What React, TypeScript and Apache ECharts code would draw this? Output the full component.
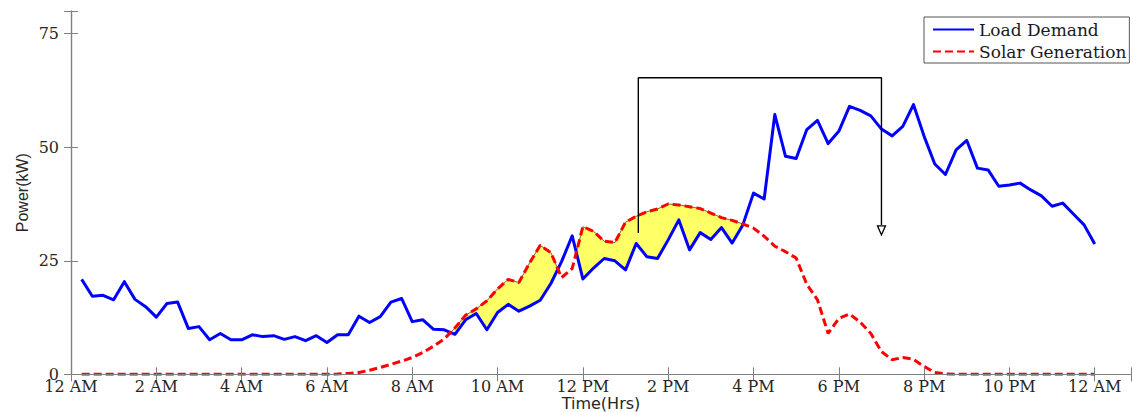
import React, { useEffect, useRef } from "react";
import * as echarts from "echarts";

// x positions are 15-minute steps after midnight (1 .. 96)
const tickLabels = [
  "12 AM", "2 AM", "4 AM", "6 AM", "8 AM", "10 AM", "12 PM",
  "2 PM", "4 PM", "6 PM", "8 PM", "10 PM", "12 AM",
];

const loadDemand = [
  20.9, 17.2, 17.4, 16.4, 20.4, 16.5, 14.9, 12.6, 15.6, 15.9,
  10.1, 10.5, 7.6, 9.0, 7.6, 7.6, 8.7, 8.3, 8.5, 7.7,
  8.3, 7.4, 8.5, 7.0, 8.7, 8.7, 12.8, 11.4, 12.7, 15.9,
  16.7, 11.6, 12.0, 9.9, 9.8, 8.8, 12.0, 13.4, 9.8, 13.6,
  15.4, 13.9, 15.0, 16.3, 20.0, 24.8, 30.5, 21.0, 23.4, 25.5,
  25.0, 23.0, 28.8, 25.9, 25.5, 29.6, 34.0, 27.4, 31.2, 29.7,
  32.3, 28.9, 32.9, 39.9, 38.6, 57.2, 48.0, 47.5, 53.9, 55.9,
  50.8, 53.5, 59.0, 58.1, 56.9, 54.0, 52.5, 54.6, 59.4, 52.4,
  46.3, 44.0, 49.4, 51.5, 45.4, 45.0, 41.4, 41.7, 42.1, 40.6,
  39.3, 37.0, 37.7, 35.3, 32.9, 28.7,
];

const solarGeneration = [
  0, 0, 0, 0, 0, 0, 0, 0, 0, 0,
  0, 0, 0, 0, 0, 0, 0, 0, 0, 0,
  0, 0, 0, 0, 0.05, 0.2, 0.4, 0.9, 1.5, 2.2,
  2.9, 3.7, 4.8, 6.2, 7.8, 10.2, 13.0, 14.4, 16.2, 18.8,
  20.9, 20.2, 24.5, 28.4, 26.8, 21.3, 23.3, 32.5, 31.5, 29.3,
  29.0, 33.5, 34.8, 35.8, 36.4, 37.5, 37.3, 36.9, 36.5, 35.5,
  34.5, 33.9, 33.1, 32.2, 30.4, 28.2, 27.0, 25.6, 19.8, 16.4,
  9.0, 12.3, 13.3, 11.5, 9.0, 5.0, 3.2, 3.7, 3.3, 1.7,
  0.4, 0.1, 0, 0, 0, 0, 0, 0, 0, 0,
  0, 0, 0, 0, 0, 0,
];

const steps = loadDemand.map((_, i) => i + 1);

// annotation (load shift arrow) in data coordinates: [step, kW]
const annotationPath = [
  [53.2, 31.1],
  [53.2, 65.3],
  [76.0, 65.3],
  [76.0, 32.9],
];
const arrowHead = [76.0, 31.7];

type Pt = { x: number; r: number; b: number };

// Runs of points where solar exceeds load (crossing points inserted),
// used to paint the yellow surplus region between the two curves.
function buildRuns(): Pt[][] {
  const merged: Pt[] = [];
  const n = steps.length;
  for (let i = 0; i < n; i++) {
    const r = solarGeneration[i];
    const b = loadDemand[i];
    merged.push({ x: steps[i], r, b });
    if (i < n - 1) {
      const d0 = r - b;
      const d1 = solarGeneration[i + 1] - loadDemand[i + 1];
      if (d0 * d1 < 0) {
        const t = d0 / (d0 - d1);
        const xc = steps[i] + t * (steps[i + 1] - steps[i]);
        const yc = r + t * (solarGeneration[i + 1] - r);
        merged.push({ x: xc, r: yc, b: yc });
      }
    }
  }
  const runs: Pt[][] = [];
  let cur: Pt[] | null = null;
  for (const p of merged) {
    const inside = p.r >= p.b && p.r > 0;
    if (inside) {
      if (!cur) {
        cur = [];
        runs.push(cur);
      }
      cur.push(p);
    } else {
      cur = null;
    }
  }
  return runs.filter((run) => run.length > 1);
}

const AXIS_GRAY = "#7f7f7f";
const TEXT = "#262626";

export default function App() {
  const ref = useRef<HTMLDivElement>(null);
  useEffect(() => {
    if (!ref.current) return;
    const chart = echarts.init(ref.current, undefined, { renderer: "svg" });
    const runs = buildRuns();
    const tick = { inside: true, length: 7, lineStyle: { color: AXIS_GRAY, width: 1 } };
    const axisLine = { show: true, lineStyle: { color: AXIS_GRAY, width: 1.2 } };
    chart.setOption({
      animation: false,
      backgroundColor: "#ffffff",
      grid: {
        left: 71,
        right: 2,
        top: 11,
        bottom: 37.7,
        containLabel: false,
        outerBoundsMode: "none",
      },
      legend: {
        data: ["Load Demand", "Solar Generation"],
        orient: "vertical",
        left: 924,
        top: 17,
        padding: [4, 3, 3, 8],
        itemGap: 5,
        itemWidth: 41,
        itemHeight: 14,
        borderColor: "#555555",
        borderWidth: 1,
        backgroundColor: "#ffffff",
        itemStyle: { opacity: 0 },
        textStyle: { fontFamily: "DejaVu Serif", fontSize: 17, color: "#1a1a1a" },
        z: 20,
      },
      xAxis: [
        {
          type: "value",
          min: 0,
          max: 99.4,
          interval: 8,
          position: "bottom",
          z: 10,
          axisLine,
          axisTick: tick,
          splitLine: { show: false },
          axisLabel: {
            fontFamily: "DejaVu Serif",
            fontSize: 16,
            lineHeight: 14,
            color: TEXT,
            margin: 5,
            formatter: (v: number) => (v % 8 === 0 ? tickLabels[v / 8] ?? "" : ""),
          },
          name: "Time(Hrs)",
          nameLocation: "middle",
          nameGap: 21,
          nameMoveOverlap: false,
          nameTextStyle: {
            fontFamily: "DejaVu Sans",
            fontSize: 16,
            lineHeight: 16,
            verticalAlign: "top",
            color: TEXT,
          },
        },
        {
          type: "value",
          min: 0,
          max: 99.4,
          interval: 8,
          position: "top",
          z: 10,
          axisLine,
          axisTick: tick,
          splitLine: { show: false },
          axisLabel: { show: false },
        },
      ],
      yAxis: [
        {
          type: "value",
          min: 0,
          max: 80,
          interval: 25,
          position: "left",
          z: 10,
          axisLine,
          axisTick: tick,
          splitLine: { show: false },
          axisLabel: {
            fontFamily: "DejaVu Serif",
            fontSize: 16,
            lineHeight: 12,
            color: TEXT,
            margin: 12,
            formatter: (v: number) => (v % 25 === 0 ? String(v) : ""),
          },
          name: "Power(kW)",
          nameLocation: "middle",
          nameGap: 41,
          nameMoveOverlap: false,
          nameRotate: 90,
          nameTextStyle: { fontFamily: "Liberation Sans", fontSize: 16, color: TEXT },
        },
        {
          type: "value",
          min: 0,
          max: 80,
          interval: 25,
          position: "right",
          z: 10,
          axisLine,
          axisTick: tick,
          splitLine: { show: false },
          axisLabel: { show: false },
        },
      ],
      series: [
        {
          name: "surplus",
          type: "custom",
          coordinateSystem: "cartesian2d",
          silent: true,
          z: 1,
          data: runs.map((run) => [run[0].x, run[0].r]),
          encode: { x: 0, y: 1 },
          renderItem: (params: any, api: any) => {
            const run = runs[params.dataIndex];
            const upper = run.map((p) => api.coord([p.x, p.r]));
            const lower = run
              .slice()
              .reverse()
              .map((p) => api.coord([p.x, p.b]));
            return {
              type: "polygon",
              shape: { points: upper.concat(lower) },
              style: { fill: "#ffff66", stroke: "#6e6e4a", lineWidth: 1 },
            };
          },
        },
        {
          name: "Load Demand",
          type: "line",
          data: steps.map((x, i) => [x, loadDemand[i]]),
          symbol: "none",
          lineStyle: { width: 3, color: "#0000ff", join: "round" },
          itemStyle: { color: "#0000ff" },
          z: 3,
        },
        {
          name: "Solar Generation",
          type: "line",
          data: steps.map((x, i) => [x, solarGeneration[i]]),
          symbol: "none",
          lineStyle: { width: 3, color: "#ff0000", type: [8, 4] },
          itemStyle: { color: "#ff0000" },
          z: 4,
        },
        {
          name: "annotation",
          type: "line",
          data: annotationPath,
          symbol: "none",
          silent: true,
          lineStyle: { width: 1.4, color: "#000000" },
          z: 5,
          markPoint: {
            silent: true,
            symbol: "triangle",
            symbolSize: [8, 9],
            symbolRotate: 180,
            label: { show: false },
            itemStyle: { color: "#ffffff", borderColor: "#000000", borderWidth: 1.3 },
            data: [{ coord: arrowHead }],
          },
        },
      ],
    });
    return () => chart.dispose();
  }, []);
  return (
    <div
      ref={ref}
      style={{ position: "absolute", left: 0, top: 0, width: 1133, height: 412, background: "#fff" }}
    />
  );
}
